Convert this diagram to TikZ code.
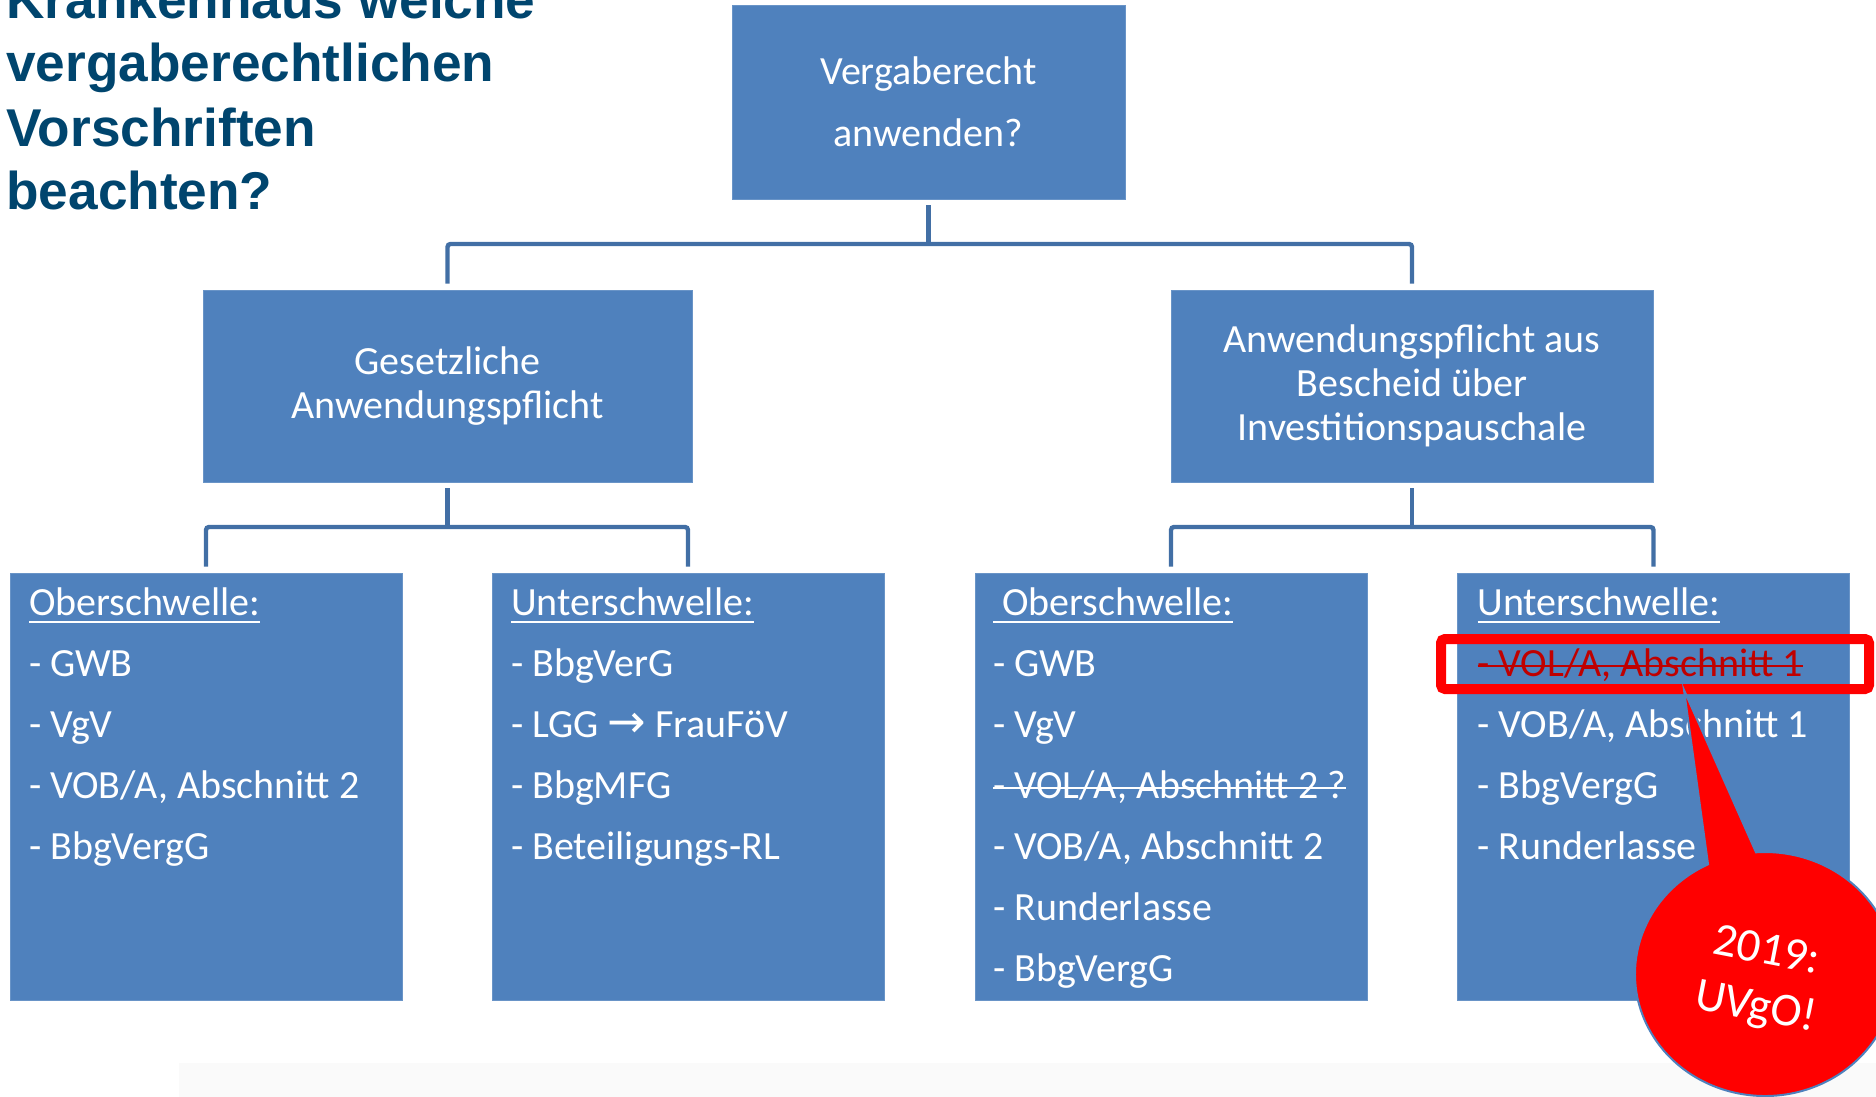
\documentclass[tikz,border=0pt]{standalone}
\usepackage{fontspec}
\setmainfont{Carlito}
\newfontfamily\titlefont{Liberation Sans}
\newfontfamily\arrowfont{DejaVu Sans}
\usetikzlibrary{shapes.callouts}
\definecolor{boxblue}{RGB}{79,129,189}
\definecolor{linkblue}{RGB}{66,111,165}
\definecolor{titleblue}{RGB}{0,69,110}
\definecolor{strikered}{RGB}{192,0,0}
\newsavebox\linebox
\newcommand{\ulinetxt}[1]{\sbox\linebox{#1}\rlap{\rule[-3.5pt]{\wd\linebox}{1pt}}\usebox\linebox}
\newcommand{\striketxt}[1]{\sbox\linebox{#1}\rlap{\rule[5pt]{\wd\linebox}{0.9pt}}\usebox\linebox}

\begin{document}
\begin{tikzpicture}[x=0.5pt,y=-0.5pt,
  box/.style={fill=boxblue,draw=boxblue!85!white,line width=0.4pt,inner sep=0pt,text=white,align=center},
  list/.style={anchor=base west,inner sep=0pt,text=white,align=left,font=\fontsize{20}{30.5}\selectfont},
  link/.style={draw=linkblue,line width=2.2pt,rounded corners=1.5pt}]
  \useasboundingbox (0,0) rectangle (1876,1097);
  \fill[black!2] (179,1063) rectangle (1876,1097);
  % base of a multi-line node = last line
  \node[anchor=base west,inner sep=0pt,align=left,text=titleblue,font=\titlefont\bfseries\fontsize{26.6}{32}\selectfont] (title) at (6,210)
    {Krankenhaus welche\\vergaberechtlichen\\Vorschriften\\beachten?};
  \node[box,minimum width=196.5pt,minimum height=97pt,font=\fontsize{20}{31}\selectfont] (vr) at (928.5,102) {Vergaberecht\\anwenden?};
  \node[box,minimum width=244.5pt,minimum height=96pt,font=\fontsize{20}{22}\selectfont] (gap) at (447.5,386) {Gesetzliche\\Anwendungspflicht};
  \node[box,minimum width=241pt,minimum height=96pt,font=\fontsize{20}{22}\selectfont] (anw) at (1412,386) {Anwendungspflicht aus\\Bescheid über\\Investitionspauschale};
  \foreach \n/\x in {ob1/206,ub1/688,ob2/1171,ub2/1653.5}
    \node[box,minimum width=196pt,minimum height=213.5pt] (\n) at (\x,786.5) {};
  \coordinate (bus0) at (928.5,244);
  \coordinate (bus1) at (447.5,527);
  \coordinate (bus2) at (1412,527);
  \foreach \p/\b/\l/\r in {vr/bus0/gap/anw,gap/bus1/ob1/ub1,anw/bus2/ob2/ub2} {
    \draw[link] ([yshift=-3pt]\p.south) -- (\b);
    \draw[link] ([yshift=3pt]\l.north) |- (\b) -| ([yshift=3pt]\r.north);
  }
  \node[list] (ob1t) at ([shift={(19,287)}]ob1.north west)
    {\ulinetxt{Oberschwelle:}\\- GWB\\- VgV\\- VOB/A, Abschnitt 2\\- BbgVergG};
  \node[list] (ub1t) at ([shift={(19,287)}]ub1.north west)
    {\ulinetxt{Unterschwelle:}\\- BbgVerG\\- LGG {\arrowfont\fontsize{23}{30.5}\selectfont →} FrauFöV\\- BbgMFG\\- Beteiligungs-RL};
  \node[list] (ob2t) at ([shift={(18,409)}]ob2.north west)
    {\ulinetxt{\ Oberschwelle:}\\- GWB\\- VgV\\\striketxt{- VOL/A, Abschnitt 2 ?}\\- VOB/A, Abschnitt 2\\- Runderlasse\\- BbgVergG};
  \node[list] (ub2t) at ([shift={(20,287)}]ub2.north west)
    {\ulinetxt{Unterschwelle:}\\{\color{strikered}\striketxt{- VOL/A, Abschnitt 1}}\\- VOB/A, Abschnitt 1\\- BbgVergG\\- Runderlasse};
  \draw[red,line width=5pt,rounded corners=2pt] (1441,639) rectangle (1869,689);
  \node[ellipse callout,fill=red,draw=boxblue,line width=1pt,inner sep=0pt,minimum width=130pt,minimum height=122pt,
    callout absolute pointer={(1684,690)},callout pointer arc=22] (bubble) at (1765,974) {};
  \node[rotate=-11,inner sep=0pt,text=white,align=center,font=\fontsize{23.5}{28.5}\selectfont] (bubbletxt) at (1761,981) {2019:\\UVgO!};
\end{tikzpicture}
\end{document}
